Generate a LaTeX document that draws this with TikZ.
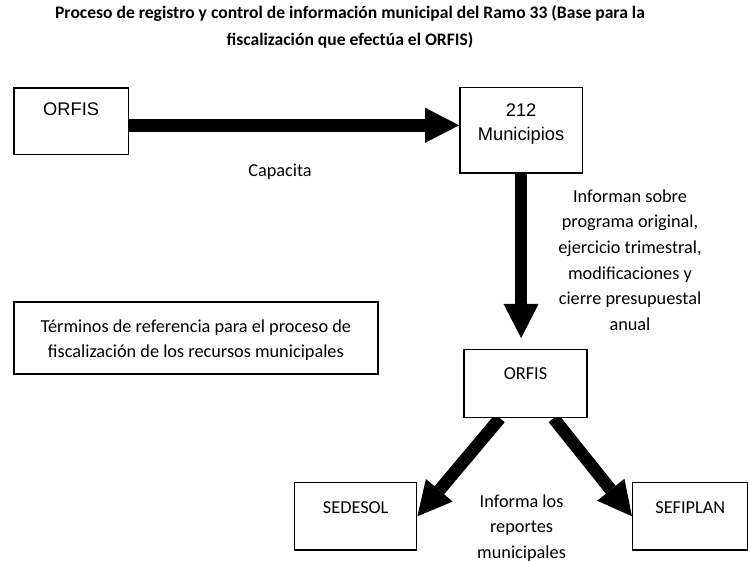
\documentclass[tikz,border=0pt]{standalone}
\usepackage{fontspec}
\setmainfont{Carlito}
\newfontfamily\arialfont{Liberation Sans}
\usetikzlibrary{positioning,arrows.meta,backgrounds}

\begin{document}
\begin{tikzpicture}[
  caja/.style={draw, fill=white, line width=1pt, anchor=north west, inner sep=0pt,
    align=center, font=\fontsize{13}{18.2}\selectfont},
  arial/.style={font=\arialfont\fontsize{13}{17}\selectfont},
  desc/.style={align=center, font=\fontsize{13}{18.2}\selectfont},
  flecha/.style={line width=8.9pt,
    -{Triangle[length=24.2pt, width=24.9pt, line width=0pt]}}
]
  \useasboundingbox (0,0) rectangle (18.7,-14.025);

  \node[align=center, font=\bfseries\fontsize{12.5}{19.2}\selectfont] (titulo) at (8.75,-0.66)
    {Proceso de registro y control de información municipal del Ramo 33 (Base para la\\
     fiscalización que efectúa el ORFIS)};

  \node[caja, arial, minimum width=2.86cm, text height=0.69cm, text depth=0.98cm]
    (orfis) at (0.33,-2.18) {ORFIS};
  \node[caja, arial, minimum width=3.06cm, text height=1.33cm, text depth=0.81cm]
    (muni) at (11.48,-2.17) {212\\Municipios};
  \node[caja, minimum width=3.08cm, text height=0.75cm, text depth=0.95cm]
    (orfisb) at (11.58,-8.72) {ORFIS};
  \node[caja, minimum width=9.1cm, text height=1.4cm, text depth=0.4cm]
    (terminos) at (0.33,-7.53)
    {Términos de referencia para el proceso de\\fiscalización de los recursos municipales};
  \node[caja, minimum width=3.05cm, text height=0.77cm, text depth=0.91cm]
    (sedesol) at (7.35,-12.05) {SEDESOL};
  \node[caja, minimum width=2.88cm, text height=0.77cm, text depth=0.91cm]
    (sefiplan) at (15.8,-12.05) {SEFIPLAN};

  \node[desc] (capacita) at (7.0,-4.28) {Capacita};
  \node[desc] (informan) at (15.75,-6.5)
    {Informan sobre\\programa original,\\ejercicio trimestral,\\modificaciones y\\cierre presupuestal\\anual};
  \node[desc] (informa) at (13.04,-13.2) {Informa los\\reportes\\municipales};

  \begin{scope}[on background layer]
    \draw[flecha] ([yshift=-0.1cm]orfis.east) -- ([yshift=-0.1cm]orfis.east -| muni.west);
    \draw[flecha, shorten >=0.27cm] (muni.south) -- (muni.south |- orfisb.north);
    \draw[flecha] ([xshift=-0.64cm]orfisb.south) -- (sedesol.east);
    \draw[flecha] ([xshift=0.7cm]orfisb.south) -- (sefiplan.west);
  \end{scope}
\end{tikzpicture}
\end{document}
